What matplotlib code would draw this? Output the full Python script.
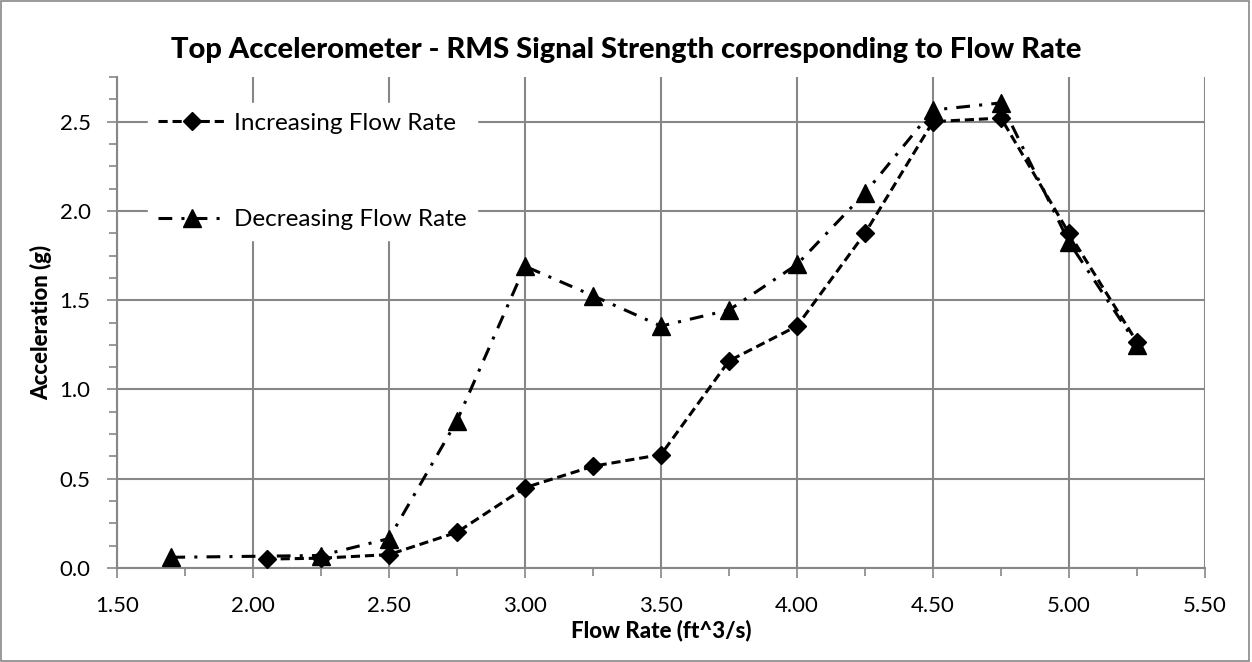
import numpy as np
import matplotlib.pyplot as plt
from matplotlib.ticker import MultipleLocator, FormatStrFormatter

plt.rcParams['font.family'] = ['Lato', 'DejaVu Sans']

# Increasing flow rate run
inc_flow = [2.05, 2.25, 2.50, 2.75, 3.00, 3.25, 3.50, 3.75, 4.00, 4.25, 4.50, 4.75, 5.00, 5.25]
inc_acc = [0.05, 0.055, 0.075, 0.20, 0.45, 0.57, 0.635, 1.16, 1.355, 1.875, 2.50, 2.52, 1.875, 1.265]

# Decreasing flow rate run
dec_flow = [1.70, 2.25, 2.50, 2.75, 3.00, 3.25, 3.50, 3.75, 4.00, 4.25, 4.50, 4.75, 5.00, 5.25]
dec_acc = [0.06, 0.07, 0.165, 0.825, 1.69, 1.525, 1.355, 1.445, 1.70, 2.10, 2.565, 2.605, 1.825, 1.25]

grid_col = '#878787'

fig = plt.figure(figsize=(12.52, 6.62), dpi=100)
ax = fig.add_axes([117/1252, 1 - 568/662, (1205-117)/1252, (568-77)/662])

ax.plot(inc_flow, inc_acc, color='black', linestyle=(0, (3.0, 1.6)), linewidth=2.2,
        marker='D', markersize=9.5, label='Increasing Flow Rate', zorder=3)
ax.plot(dec_flow, dec_acc, color='black', linestyle=(0, (4.5, 3, 1, 3)), linewidth=2.2,
        marker='^', markersize=13, label='Decreasing Flow Rate', zorder=3)

ax.set_xlim(1.5, 5.5)
ax.set_ylim(0, 2.75)
ax.xaxis.set_major_locator(MultipleLocator(0.5))
ax.xaxis.set_minor_locator(MultipleLocator(0.25))
ax.yaxis.set_major_locator(MultipleLocator(0.5))
ax.yaxis.set_minor_locator(MultipleLocator(0.125))
ax.xaxis.set_major_formatter(FormatStrFormatter('%.2f'))
ax.yaxis.set_major_formatter(FormatStrFormatter('%.1f'))

ax.grid(True, which='major', color=grid_col, linewidth=1.5)
ax.set_axisbelow(True)
for s in ['top', 'right']:
    ax.spines[s].set_visible(False)
for s in ['left', 'bottom']:
    ax.spines[s].set_color(grid_col)
    ax.spines[s].set_linewidth(1.5)
ax.tick_params(which='both', direction='out', color=grid_col, width=1.2, labelsize=16)
ax.tick_params(which='major', length=7)
ax.tick_params(which='minor', length=6)
ax.tick_params(axis='x', which='major', pad=13)
ax.tick_params(axis='y', which='major', pad=12)

ax.set_xlabel('Flow Rate (ft^3/s)', fontsize=16, fontweight='black', labelpad=3)
ax.set_ylabel('Acceleration (g)', fontsize=16, fontweight='black', labelpad=5)
fig.text(0.5, 1 - 50/662, 'Top Accelerometer - RMS Signal Strength corresponding to Flow Rate',
         ha='center', va='center', fontsize=21, fontweight='black')

leg = ax.legend(loc='upper left', bbox_to_anchor=(0.0285, 0.947), borderaxespad=0,
                frameon=True, fancybox=False, edgecolor='white', framealpha=1,
                fontsize=17.5, labelspacing=3.1, handlelength=2.8, handletextpad=0.35,
                borderpad=0.4)

# outer chart border
fig.patches.append(plt.Rectangle((0.001, 0.001), 0.997, 0.997, transform=fig.transFigure,
                                 fill=False, edgecolor=grid_col, linewidth=1.2))

fig.savefig('out.png', dpi=100)
